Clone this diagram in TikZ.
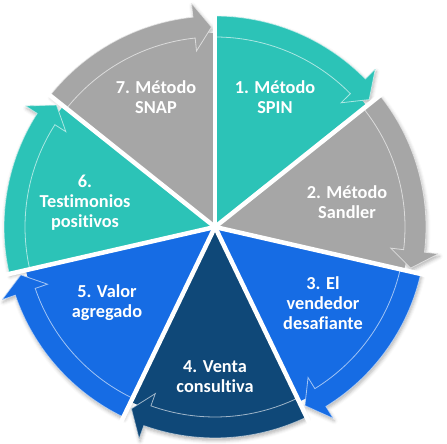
\documentclass[tikz,border=0pt]{standalone}
\usepackage{fontspec}
\setmainfont{Carlito}[Ligatures=NoCommon]
\usetikzlibrary{shadows.blur}
\definecolor{cteal}{HTML}{2CC3B7}
\definecolor{cgray}{HTML}{A6A6A6}
\definecolor{cblue}{HTML}{166CE4}
\definecolor{cnavy}{HTML}{0F4878}
\tikzset{
  seglabel/.style={text=white, font=\fontsize{18.3}{20}\selectfont\bfseries, align=center, inner sep=0pt},
  sepline/.style={white, line width=4.5pt},
  arrowedge/.style={draw=white, draw opacity=0.6, line width=0.8pt},
  softshadow/.style={blur shadow={shadow xshift=1pt, shadow yshift=-2.5pt, shadow blur radius=3.5pt, shadow opacity=30}},
}
\begin{document}
\begin{tikzpicture}[x=1pt,y=1pt]
\useasboundingbox (0,0) rectangle (447,444);
\begin{scope}[shift={(215,217)}]
% shadow pass
\foreach \i/\col in {1/cteal,2/cgray,3/cblue,4/cnavy,5/cblue,6/cteal,7/cgray}{
  \pgfmathsetmacro\s{90-(\i-1)*360/7}
  \pgfmathsetmacro\e{\s-360/7}
  \pgfmathsetmacro\b{\e+6}
  \pgfmathsetmacro\t{\e+1}
  \fill[\col, softshadow] (\s:211pt) arc[start angle=\s, end angle=\b, radius=211pt]
     -- (\b:225pt) -- (\t:200pt) -- (\b:177pt) -- (\b:190pt)
     arc[start angle=\b, end angle=\s, radius=190pt] -- cycle;
}
% shapes
\foreach \i/\col in {1/cteal,2/cgray,3/cblue,4/cnavy,5/cblue,6/cteal,7/cgray}{
  \pgfmathsetmacro\s{90-(\i-1)*360/7}
  \pgfmathsetmacro\e{\s-360/7}
  \pgfmathsetmacro\b{\e+6}
  \pgfmathsetmacro\t{\e+1}
  \fill[\col] (0,0) -- (\s:194pt) arc[start angle=\s, end angle=\e, radius=194pt] -- cycle;
  \filldraw[fill=\col, arrowedge] (\s:211pt) arc[start angle=\s, end angle=\b, radius=211pt]
     -- (\b:225pt) -- (\t:200pt) -- (\b:177pt) -- (\b:190pt)
     arc[start angle=\b, end angle=\s, radius=190pt] -- cycle;
}
\foreach \k in {0,...,6}{
  \draw[sepline] (0,0) -- ({90-\k*360/7}:232pt);
}
\end{scope}
\node[seglabel] (l1) at (275,347) {1. Método\\SPIN};
\node[seglabel] (l2) at (347,242) {2. Método\\Sandler};
\node[seglabel] (l3) at (323,141) {3. El\\vendedor\\desafiante};
\node[seglabel] (l4) at (215,67) {4. Venta\\consultiva};
\node[seglabel] (l5) at (107,141) {5. Valor\\agregado};
\node[seglabel] (l6) at (85,241) {6.\\Testimonios\\positivos};
\node[seglabel] (l7) at (156,347) {7. Método\\SNAP};
\end{tikzpicture}
\end{document}
